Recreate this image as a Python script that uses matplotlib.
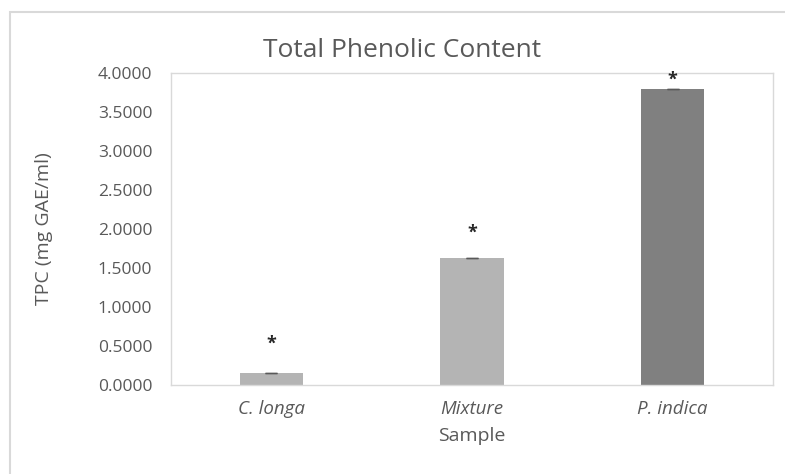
import matplotlib.pyplot as plt
from matplotlib.patches import Rectangle

# Data
samples = ['C. longa', 'Mixture', 'P. indica']
tpc = [0.154, 1.628, 3.795]
tpc_err = [0.006, 0.005, 0.004]
star_y = [0.53, 1.95, 3.91]
bar_colors = ['#b4b4b4', '#b4b4b4', '#808080']
yticks = [0.0, 0.5, 1.0, 1.5, 2.0, 2.5, 3.0, 3.5, 4.0]

plt.rcParams['font.family'] = ['Open Sans', 'DejaVu Sans']
text_gray = '#595959'
frame_gray = '#d9d9d9'

fig = plt.figure(figsize=(7.85, 4.74), dpi=100)
W, H = 785, 474

# outer chart border (runs off the right and bottom edges)
fig.patches.append(Rectangle((10 / W, -0.05), 1.2, (H - 12) / H + 0.05,
                             transform=fig.transFigure, fill=False,
                             edgecolor=frame_gray, linewidth=1.5))

ax = fig.add_axes([171 / W, (H - 385) / H, (773 - 171) / W, (385 - 73) / H])
x = list(range(len(samples)))
ax.bar(x, tpc, width=0.314, color=bar_colors, zorder=2)
ax.errorbar(x, tpc, yerr=tpc_err, fmt='none', ecolor=text_gray,
            elinewidth=1, capsize=4, capthick=1, zorder=3)
for xi, sy in zip(x, star_y):
    ax.text(xi, sy, '*', ha='center', va='center', fontsize=13,
            color='#262626', fontweight='bold')

ax.set_xlim(-0.5, 2.5)
ax.set_ylim(0, 4)
ax.set_yticks(yticks)
ax.set_yticklabels(['%.4f' % v for v in yticks])
ax.set_xticks(x)
ax.set_xticklabels(samples, fontstyle='italic', fontsize=13.5)
ax.tick_params(axis='both', length=0, colors=text_gray)
ax.tick_params(axis='y', pad=13.5, labelsize=12.5)
ax.tick_params(axis='x', pad=11)
for sp in ax.spines.values():
    sp.set_color(frame_gray)
    sp.set_linewidth(1)

ax.set_xlabel('Sample', color=text_gray, fontsize=14, labelpad=6)
ax.set_ylabel('TPC (mg GAE/ml)', color=text_gray, fontsize=14)
ax.yaxis.set_label_coords(-(171 - 53) / (773 - 171), 0.5)
fig.text(402 / W, 1 - 57 / H, 'Total Phenolic Content',
         ha='center', va='baseline', fontsize=19, color=text_gray)

fig.savefig('out.png', dpi=100)
